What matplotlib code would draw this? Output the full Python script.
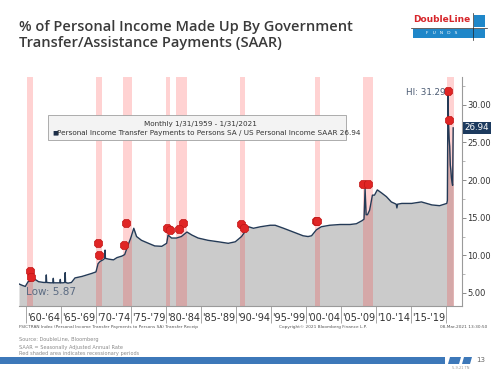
import matplotlib.pyplot as plt
from matplotlib.patches import Rectangle, Polygon
from matplotlib.ticker import FixedLocator, FuncFormatter

# series (year, % of personal income)
years = [1959.0, 1959.5, 1959.9, 1960.3, 1960.7, 1961.3, 1961.8, 1962.5, 1962.85, 1962.9, 1962.95,
         1963.5, 1963.85, 1963.9, 1963.95, 1964.5, 1964.85, 1964.9, 1964.95, 1965.3, 1965.55, 1965.6,
         1965.65, 1966.0, 1966.5, 1967.0, 1967.5, 1968.0, 1968.7, 1969.4, 1970.0, 1970.3, 1970.6,
         1971.0, 1971.25, 1971.3, 1971.35, 1971.8, 1972.5, 1973.0, 1973.7, 1974.1, 1974.6, 1975.0,
         1975.4, 1975.8, 1976.5, 1977.5, 1978.4, 1979.4, 1980.1, 1980.3, 1980.8, 1981.5, 1982.2,
         1983.0, 1983.7, 1984.6, 1986.0, 1987.5, 1988.9, 1989.9, 1990.8, 1991.8, 1992.5, 1993.5,
         1994.9, 1995.6, 1996.8, 1998.2, 1999.6, 2000.3, 2000.8, 2001.5, 2002.2, 2003.4, 2004.9,
         2006.3, 2007.2, 2008.0, 2008.3, 2008.45, 2008.6, 2008.8, 2009.1, 2009.5, 2009.8, 2010.2,
         2010.8, 2011.5, 2012.2, 2012.9, 2013.0, 2013.1, 2013.7, 2015.1, 2016.5, 2018.0, 2019.1,
         2020.13, 2020.21, 2020.29, 2020.38, 2020.46, 2020.54, 2020.63, 2020.71, 2020.79, 2020.88,
         2020.96, 2021.04]
pct = [6.2, 6.0, 5.87, 6.5, 6.6, 6.8, 6.5, 6.4, 6.4, 7.4, 6.4,
       6.35, 6.35, 6.95, 6.35, 6.35, 6.35, 6.8, 6.35, 6.35, 6.4, 7.7,
       6.4, 6.3, 6.4, 7.0, 7.1, 7.2, 7.4, 7.6, 7.8, 8.9, 9.2,
       9.4, 9.6, 10.7, 9.6, 9.5, 9.4, 9.7, 9.9, 10.1, 11.4, 12.4,
       13.6, 12.5, 12.0, 11.6, 11.25, 11.2, 11.6, 12.7, 12.3, 12.3, 12.5,
       13.1, 12.7, 12.3, 12.0, 11.8, 11.6, 11.8, 12.5, 13.8, 13.6, 13.8,
       14.0, 14.0, 13.6, 13.1, 12.6, 12.5, 12.6, 13.4, 13.8, 14.0, 14.1,
       14.1, 14.2, 14.6, 14.8, 18.9, 15.4, 15.4, 16.0, 18.0, 18.0, 18.7,
       18.3, 17.8, 17.1, 16.8, 16.3, 16.8, 16.9, 16.9, 17.1, 16.7, 16.6,
       16.9, 17.3, 31.29, 27.5, 25.5, 24.5, 22.0, 21.3, 20.3, 19.7,
       19.3, 26.94]

rec_start = [1960.2, 1970.0, 1973.9, 1980.0, 1981.5, 1990.6, 2001.3, 2008.1, 2020.2]
rec_end = [1961.0, 1970.8, 1975.2, 1980.6, 1983.0, 1991.3, 2002.0, 2009.6, 2021.1]

mark_years = [1960.6, 1960.7, 1970.3, 1970.4, 1974.3, 1974.0, 1980.1, 1980.6, 1982.4, 1981.9,
              1990.7, 1991.1, 2001.4, 2001.6, 2008.2, 2008.8, 2020.35, 2020.4]
mark_vals = [7.9, 7.1, 11.6, 10.05, 14.35, 11.4, 13.6, 13.4, 14.35, 13.5,
             14.2, 13.6, 14.6, 14.6, 19.5, 19.5, 31.9, 28.0]

tick_years = list(range(1960, 2021, 5))
tick_labels = ["'60-'64", "'65-'69", "'70-'74", "'75-'79", "'80-'84", "'85-'89", "'90-'94",
               "'95-'99", "'00-'04", "'05-'09", "'10-'14", "'15-'19"]

W, H = 500, 373
fig = plt.figure(figsize=(5, 3.73), dpi=100)
fig.patch.set_facecolor('white')


def fx(px):
    return px / W


def fy(py):
    return 1 - py / H


ax = fig.add_axes([fx(19), fy(306), fx(462) - fx(19), fy(77) - fy(306)])
ax.set_xlim(1959.0, 2022.3)
ax.set_ylim(3.27, 33.7)

for s, e in zip(rec_start, rec_end):
    ax.axvspan(s, e, color='#ff2020', alpha=0.2, lw=0, zorder=3)

ax.fill_between(years, pct, 0, color='#cbcbcb', lw=0, zorder=1)
ax.plot(years, pct, color='#243a56', lw=1.0, zorder=4)
ax.plot(mark_years, mark_vals, ls='none', marker='8', ms=6.5, color='#e02525',
        mec='#c01515', mew=0.5, zorder=5)

# axes styling
for side in ['left', 'top']:
    ax.spines[side].set_visible(False)
ax.spines['right'].set_color('#9a9a9a')
ax.spines['bottom'].set_color('#9a9a9a')
ax.spines['right'].set_linewidth(0.8)
ax.spines['bottom'].set_linewidth(0.8)
ax.yaxis.tick_right()
ax.set_yticks([5, 10, 15, 20, 25, 30])
ax.yaxis.set_minor_locator(FixedLocator([7.5, 12.5, 17.5, 22.5, 27.5, 32.5]))
ax.yaxis.set_major_formatter(FuncFormatter(lambda v, p: f"{v:.2f}"))
ax.tick_params(axis='y', which='major', length=3, width=0.6, color='#777777',
               labelsize=6, labelcolor='#333333', pad=1)
ax.tick_params(axis='y', which='minor', length=2, width=0.5, color='#999999')

ax.set_xticks(tick_years)
ax.set_xticklabels([])
ax.tick_params(axis='x', which='major', length=12, width=0.6, color='#999999')
ax.set_xticks([y + 2.5 for y in tick_years[:-1]], minor=True)
ax.set_xticklabels(tick_labels, minor=True)
ax.tick_params(axis='x', which='minor', length=0, labelsize=7, labelcolor='#333333', pad=5)

# in-plot annotations
ax.text(1960.0, 5.1, 'Low: 5.87', fontsize=7.5, color='#5b6b82', va='center', ha='left', zorder=6)
ax.text(2020.0, 31.7, 'HI: 31.29', fontsize=6.3, color='#4a5a72', va='center', ha='right', zorder=6)
ax.text(1.006, 26.94, '26.94', transform=ax.get_yaxis_transform(), fontsize=6.3, color='white',
        va='center', ha='left', zorder=6,
        bbox=dict(boxstyle='square,pad=0.15', fc='#1c3a5e', ec='none'))

# legend box
fig.patches.append(Rectangle((fx(48), fy(140)), fx(346) - fx(48), fy(115) - fy(140),
                             transform=fig.transFigure, fc='#f3f3f3', ec='#a0a0a0', lw=0.6, zorder=7))
fig.text(fx(200), fy(124), 'Monthly 1/31/1959 - 1/31/2021', fontsize=5.2, color='#333333',
         ha='center', va='center', zorder=8)
fig.text(fx(52), fy(132.5), '\u25a0', fontsize=4.5, color='#1c2e48', ha='left', va='center', zorder=8)
fig.text(fx(57), fy(132.5),
         'Personal Income Transfer Payments to Persons SA / US Personal Income SAAR 26.94',
         fontsize=5.2, color='#333333', ha='left', va='center', zorder=8)

# title
fig.text(fx(19), fy(27), '% of Personal Income Made Up By Government', fontsize=10.5,
         family='Open Sans', weight='semibold', color='#3a3a3a', va='center', ha='left')
fig.text(fx(19), fy(43), 'Transfer/Assistance Payments (SAAR)', fontsize=10.5,
         family='Open Sans', weight='semibold', color='#3a3a3a', va='center', ha='left')

# logo
fig.patches.append(Rectangle((fx(413), fy(38)), fx(72), fy(29) - fy(38),
                             transform=fig.transFigure, fc='#1f87c9', ec='none'))
fig.patches.append(Rectangle((fx(474), fy(27)), fx(11), fy(15) - fy(27),
                             transform=fig.transFigure, fc='#1f87c9', ec='none'))
fig.add_artist(plt.Line2D([fx(473), fx(473)], [fy(13), fy(40)], transform=fig.transFigure,
                          color='#222222', lw=0.5))
fig.add_artist(plt.Line2D([fx(411), fx(487)], [fy(28), fy(28)], transform=fig.transFigure,
                          color='#222222', lw=0.5))
fig.text(fx(442), fy(19), 'DoubleLine', fontsize=6.5, weight='bold', color='#d7262b',
         ha='center', va='center')
fig.text(fx(442), fy(33.5), 'F   U   N   D   S', fontsize=3.2, color='white', ha='center', va='center')

# footer
fig.text(fx(19), fy(327), 'FSICTRAN Index (Personal Income Transfer Payments to Persons SA) Transfer Receip',
         fontsize=3.1, color='#555555', ha='left', va='center')
fig.text(fx(279), fy(327), 'Copyright\u00a9 2021 Bloomberg Finance L.P.', fontsize=3.1, color='#555555',
         ha='left', va='center')
fig.text(fx(487), fy(327), '08-Mar-2021 13:30:50', fontsize=3.1, color='#555555', ha='right', va='center')
src = ['Source: DoubleLine, Bloomberg', 'SAAR = Seasonally Adjusted Annual Rate',
       'Red shaded area indicates recessionary periods']
for i, line in enumerate(src):
    fig.text(fx(19), fy(340 + 7 * i), line, fontsize=3.6, color='#8a8a8a', ha='left', va='center')

fig.patches.append(Rectangle((0, fy(364)), fx(445), fy(357) - fy(364), transform=fig.transFigure,
                             fc='#3d78b9', ec='none'))
for x0 in [449, 463]:
    w = 11 if x0 == 449 else 8
    pts = [(fx(x0 + 1), fy(357)), (fx(x0 + w + 1), fy(357)), (fx(x0 + w - 1), fy(364)), (fx(x0 - 1), fy(364))]
    fig.patches.append(Polygon(pts, closed=True, transform=fig.transFigure, fc='#3d78b9', ec='none'))
fig.text(fx(481), fy(360), '13', fontsize=5, color='#666666', ha='center', va='center')
fig.text(fx(461), fy(368), '5-9-21 TN', fontsize=2.5, color='#999999', ha='center', va='center')

fig.savefig('out.png', dpi=100)
